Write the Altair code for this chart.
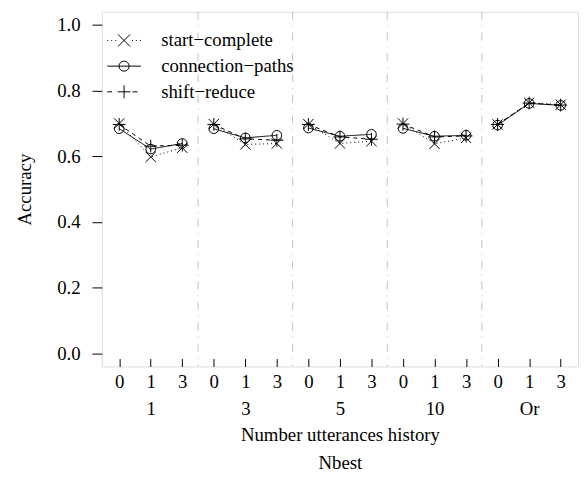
import altair as alt
import pandas as pd

# ---- data ----
methods = ["start\u2212complete", "connection\u2212paths", "shift\u2212reduce"]
nbest_levels = ["1", "3", "5", "10", "Or"]
history_levels = ["0", "1", "3"]

start_complete = [0.700, 0.598, 0.626, 0.698, 0.636, 0.639, 0.698, 0.639, 0.646,
                  0.700, 0.638, 0.656, 0.697, 0.763, 0.757]
connection_paths = [0.684, 0.622, 0.639, 0.684, 0.656, 0.664, 0.686, 0.661, 0.667,
                    0.685, 0.661, 0.664, 0.695, 0.761, 0.755]
shift_reduce = [0.697, 0.631, 0.634, 0.697, 0.653, 0.649, 0.697, 0.659, 0.652,
                0.698, 0.659, 0.662, 0.697, 0.762, 0.756]

series = dict(zip(methods, [start_complete, connection_paths, shift_reduce]))

rows = []
for m, vals in series.items():
    i = 0
    for g in nbest_levels:
        for h in history_levels:
            rows.append({"pos": i, "nbest": g, "hist": h, "method": m, "acc": vals[i]})
            i += 1
df = pd.DataFrame(rows)

n_hist = len(history_levels)
n_pos = n_hist * len(nbest_levels)
sep_df = pd.DataFrame({"pos": [k * n_hist - 0.5 for k in range(1, len(nbest_levels))]})

FONT = "'Liberation Serif', 'Times New Roman', Times, serif"
FS = 19
W, H = 482, 359

# ---- marker paths ----
marker_paths = [
    "M-0.8,-0.8L0.8,0.8M-0.8,0.8L0.8,-0.8",
    "M0.75,0A0.75,0.75,0,1,1,-0.75,0A0.75,0.75,0,1,1,0.75,0",
    "M-1,0L1,0M0,-1L0,1",
]
dots = "".join(f"M{p},0L{p + 0.06:.2f},0" for p in [-1, -0.765, -0.53, 0.47, 0.705, 0.94])
legend_paths = [
    dots + "M-0.36,-0.36L0.36,0.36M-0.36,0.36L0.36,-0.36",
    "M-1,0L1,0M0.3,0A0.3,0.3,0,1,1,-0.3,0A0.3,0.3,0,1,1,0.3,0",
    "M-1,0L-0.72,0M0.5,0L0.8,0M-0.38,0L0.38,0M0,-0.38L0,0.38",
]

xscale = alt.Scale(domain=[-0.55, n_pos - 1 + 0.55], nice=False, zero=False)
yscale = alt.Scale(domain=[-0.04, 1.04], nice=False, zero=False)

H_js = "[" + ",".join(f"'{h}'" for h in history_levels) + "]"
N_js = "[" + ",".join(f"'{g}'" for g in nbest_levels) + "]"
label_expr = (f"datum.value % {n_hist} == 1 ? [{H_js}[datum.value % {n_hist}], "
              f"{N_js}[floor(datum.value / {n_hist})]] : {H_js}[datum.value % {n_hist}]")

y_enc = alt.Y("acc:Q", scale=yscale, axis=alt.Axis(
    values=[0, 0.2, 0.4, 0.6, 0.8, 1.0], format=".1f", tickSize=10, tickColor="black",
    labelPadding=12, labelFont=FONT, labelFontSize=FS, labelColor="black",
    domain=False, grid=False, title="Accuracy", titleFont=FONT, titleFontSize=FS,
    titleFontWeight="normal", titleColor="black", titlePadding=22))

seps = alt.Chart(sep_df).mark_rule(color="#c0c0c0", strokeWidth=1, strokeDash=[8, 6, 1, 6]).encode(
    x=alt.X("pos:Q", scale=xscale, axis=None))

lines = alt.Chart(df).mark_line(color="black", strokeWidth=1).encode(
    x=alt.X("pos:Q", scale=xscale, axis=alt.Axis(
        values=list(range(n_pos)), labelExpr=label_expr, ticks=False, tickSize=0, domain=False,
        grid=False, labelFont=FONT, labelFontSize=FS, labelColor="black", labelPadding=6,
        labelLineHeight=28, labelOverlap=False, labelFlush=False, labelBound=False,
        title=["Number utterances history", "Nbest"], titleFont=FONT, titleFontSize=FS,
        titleFontWeight="normal", titleColor="black", titleLineHeight=28, titlePadding=7)),
    y=y_enc,
    strokeDash=alt.StrokeDash("method:N", scale=alt.Scale(
        domain=methods, range=[[1, 3], [1, 0], [4, 4]]), legend=None),
    detail="nbest:N",
)

points = alt.Chart(df).mark_point(filled=False, color="black", strokeWidth=1, size=169, opacity=1).encode(
    x=alt.X("pos:Q", scale=xscale, axis=alt.Axis(
        orient="top", offset=-H, values=list(range(n_pos)), labels=False, domain=False,
        tickSize=8, tickColor="black", grid=False, title=None)),
    y=y_enc,
    shape=alt.Shape("method:N", scale=alt.Scale(domain=methods, range=marker_paths), legend=None),
)

legend_layer = alt.Chart(df).transform_filter("false").mark_point(
    filled=False, color="black", strokeWidth=1, opacity=1).encode(
    shape=alt.Shape("method:N", scale=alt.Scale(domain=methods, range=legend_paths),
                    legend=alt.Legend(title=None, orient="none", legendX=5, legendY=16,
                                      symbolSize=1156, symbolStrokeWidth=1,
                                      symbolStrokeColor="black", symbolFillColor="transparent",
                                      labelFont=FONT, labelFontSize=FS, labelColor="black",
                                      labelOffset=20, clipHeight=26, rowPadding=0, padding=0)),
)

chart = alt.layer(seps, lines, points, legend_layer).resolve_scale(
    shape="independent").resolve_axis(x="independent").properties(
    width=W, height=H,
    autosize=alt.AutoSizeParams(type="none"),
    padding={"left": 95, "top": 1, "right": 2, "bottom": 106},
).configure_view(stroke="black", strokeWidth=1).configure(background="white")

chart.save("out.html", embed_options={"renderer": "svg", "actions": False})
